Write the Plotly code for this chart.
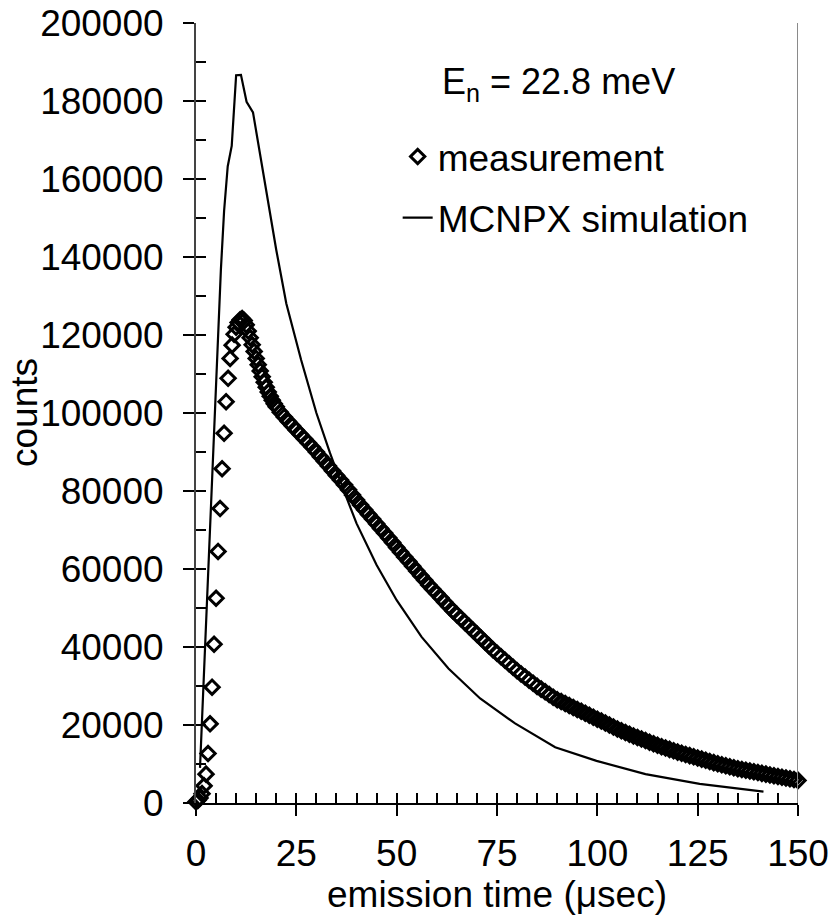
import plotly.graph_objects as go

# ---------------- data ----------------
meas_t = [0.0, 0.5, 1.0, 1.5, 2.0, 2.5, 3.0, 3.5, 4.0, 4.5, 5.0, 5.5, 6.0, 6.5,
          7.0, 7.5, 8.0, 8.5, 9.0, 9.5, 10.0, 10.5, 11.0, 11.5, 12.0, 12.5,
          13.0, 13.5, 14.0, 14.5, 15.0, 15.5, 16.0, 16.5, 17.0, 17.5, 18.0,
          18.5, 19.0, 19.5, 20.0,
          21, 22, 23, 24, 25, 26, 27, 28, 29, 30, 31, 32, 33, 34, 35, 36, 37,
          38, 39, 40, 41, 42, 43, 44, 45, 46, 47, 48, 49, 50, 51, 52, 53, 54,
          55, 56, 57, 58, 59, 60, 61, 62, 63, 64, 65, 66, 67, 68, 69, 70, 71,
          72, 73, 74, 75, 76, 77, 78, 79, 80, 81, 82, 83, 84, 85, 86, 87, 88,
          89, 90, 91, 92, 93, 94, 95, 96, 97, 98, 99, 100, 101, 102, 103, 104,
          105, 106, 107, 108, 109, 110, 111, 112, 113, 114, 115, 116, 117, 118,
          119, 120, 121, 122, 123, 124, 125, 126, 127, 128, 129, 130, 131, 132,
          133, 134, 135, 136, 137, 138, 139, 140, 141, 142, 143, 144, 145, 146,
          147, 148, 149, 150]
meas_counts = [300, 700, 1300, 2400, 4400, 7400, 12700, 20300, 29700, 40700,
               52500, 64500, 75500, 85700, 94800, 102900, 108900, 114000,
               117400, 120200, 122000, 123200, 123900, 124200, 123700, 122600,
               121000, 119300, 117500, 115800, 114000, 112400, 110800, 109300,
               107900, 106600, 105400, 104300, 103300, 102400, 101600,
               100200, 99000, 97800, 96700, 95600, 94500, 93400, 92300, 91200,
               90000, 88800, 87600, 86400, 85200, 84000, 82800, 81600, 80300,
               79000, 77700, 76400, 75200, 74000, 72800, 71600, 70400, 69200,
               68000, 66800, 65500, 64300, 63100, 61900, 60700, 59500, 58300,
               57100, 55900, 54800, 53700, 52600, 51500, 50400, 49300, 48300,
               47300, 46300, 45300, 44300, 43300, 42300, 41300, 40300, 39300,
               38400, 37500, 36600, 35700, 34800, 33900, 33100, 32300, 31500,
               30700, 29900, 29200, 28500, 27800, 27100, 26500, 26000, 25500,
               25000, 24500, 24000, 23500, 23000, 22500, 22000, 21500, 21000,
               20500, 20000, 19500, 19000, 18550, 18100, 17650, 17200, 16800,
               16400, 16000, 15600, 15200, 14800, 14450, 14100, 13750, 13400,
               13050, 12750, 12450, 12150, 11850, 11550, 11250, 10950, 10650,
               10350, 10050, 9800, 9550, 9300, 9050, 8800, 8600, 8400, 8200,
               8000, 7800, 7600, 7400, 7200, 7000, 6800, 6600, 6400, 6200,
               6000, 5800]

sim_t = [1.0, 2.7, 6.2, 7.0, 7.9, 8.9, 10.0, 11.2, 12.6, 14.2, 18.0, 20.0,
         22.5, 26.2, 30.0, 33.4, 37.1, 40.0, 45.0, 50.0, 56.2, 62.9, 70.8,
         79.5, 89.5, 99.8, 112.0, 125.5, 141.4]
sim_counts = [9000, 52000, 136700, 151800, 163200, 168500, 186600, 186700,
              179800, 177100, 153800, 141800, 128100, 113600, 100000, 89700,
              79400, 71700, 61000, 52000, 42600, 34500, 26800, 20400, 14300,
              10800, 7400, 4900, 2900]

x_ticks = [0, 25, 50, 75, 100, 125, 150]
y_ticks = [0, 20000, 40000, 60000, 80000, 100000, 120000, 140000, 160000,
           180000, 200000]
x_range = [0, 150]
y_range = [0, 200000]

FONT = "Arial, 'Liberation Sans', sans-serif"
FS = 37

fig = go.Figure()
fig.add_trace(go.Scatter(
    x=meas_t, y=meas_counts, mode="markers", name="measurement",
    marker=dict(symbol="diamond-open", size=11, color="black",
                line=dict(width=3, color="black")),
    cliponaxis=False, legendgroup="a"))
fig.add_trace(go.Scatter(
    x=sim_t, y=sim_counts, mode="lines", name="MCNPX simulation",
    line=dict(color="black", width=2.2), cliponaxis=False, legendgroup="b"))
# helper trace so the overlay axes (inside/minor ticks) are drawn
fig.add_trace(go.Scatter(x=[None], y=[None], xaxis="x2", yaxis="y2",
                         showlegend=False, hoverinfo="skip"))

fig.update_layout(
    width=833, height=920,
    margin=dict(l=196, r=35, t=23, b=117, autoexpand=False),
    paper_bgcolor="white", plot_bgcolor="white",
    font=dict(family=FONT, size=FS, color="black"),
    showlegend=True,
    legend=dict(x=0.335, y=0.868, xanchor="left", yanchor="top",
                bgcolor="rgba(0,0,0,0)", borderwidth=0,
                font=dict(family=FONT, size=FS, color="black"),
                traceorder="grouped", tracegroupgap=10),
    xaxis=dict(range=x_range, tickvals=x_ticks, ticktext=[str(v) for v in x_ticks],
               ticks="outside", ticklen=11, tickwidth=1.5, tickcolor="black",
               showline=True, linecolor="black", linewidth=1.5,
               showgrid=False, zeroline=False, automargin=False,
               tickfont=dict(family=FONT, size=FS),
               ticklabelstandoff=6, ticklabeloverflow="allow",
               title=dict(text="emission time (μsec)", standoff=0,
                          font=dict(family=FONT, size=FS))),
    yaxis=dict(range=y_range, tickvals=y_ticks, ticktext=[str(v) for v in y_ticks],
               ticks="outside", ticklen=11, tickwidth=1.5, tickcolor="black",
               showline=True, linecolor="#444444", linewidth=2,
               showgrid=False, zeroline=False, automargin=False,
               tickfont=dict(family=FONT, size=FS),
               ticklabelstandoff=12, ticklabeloverflow="allow"),
    xaxis2=dict(overlaying="x", anchor="y", side="bottom", range=x_range,
                tick0=0, dtick=5, ticks="inside", ticklen=10, tickwidth=1.5,
                tickcolor="black", showticklabels=False, showline=False,
                showgrid=False, zeroline=False, automargin=False),
    yaxis2=dict(overlaying="y", anchor="x", side="left", range=y_range,
                tick0=0, dtick=10000, ticks="inside", ticklen=10, tickwidth=1.5,
                tickcolor="black", showticklabels=False, showline=False,
                showgrid=False, zeroline=False, automargin=False),
)

# right frame line (grey)
fig.add_shape(type="line", xref="x", yref="paper", x0=150, x1=150, y0=0, y1=1,
              line=dict(color="#8a8a8a", width=2))

# y-axis title
fig.add_annotation(text="counts", xref="paper", yref="paper",
                   x=-172 / 602, y=1 - (413 - 23) / 780,
                   xanchor="center", yanchor="middle", textangle=-90,
                   showarrow=False, font=dict(family=FONT, size=FS, color="black"))

fig.add_annotation(text="E<sub>n</sub> = 22.8 meV", xref="paper", yref="paper",
                   x=244 / 602, y=1 - (84 - 23) / 780,
                   xanchor="left", yanchor="middle", showarrow=False,
                   font=dict(family=FONT, size=36, color="black"))

# remove the default 8px page margin so the figure fills the window exactly
fig.write_html("out.html", config={"displayModeBar": False},
               post_script="document.body.style.margin='0';document.body.style.overflow='hidden';")
